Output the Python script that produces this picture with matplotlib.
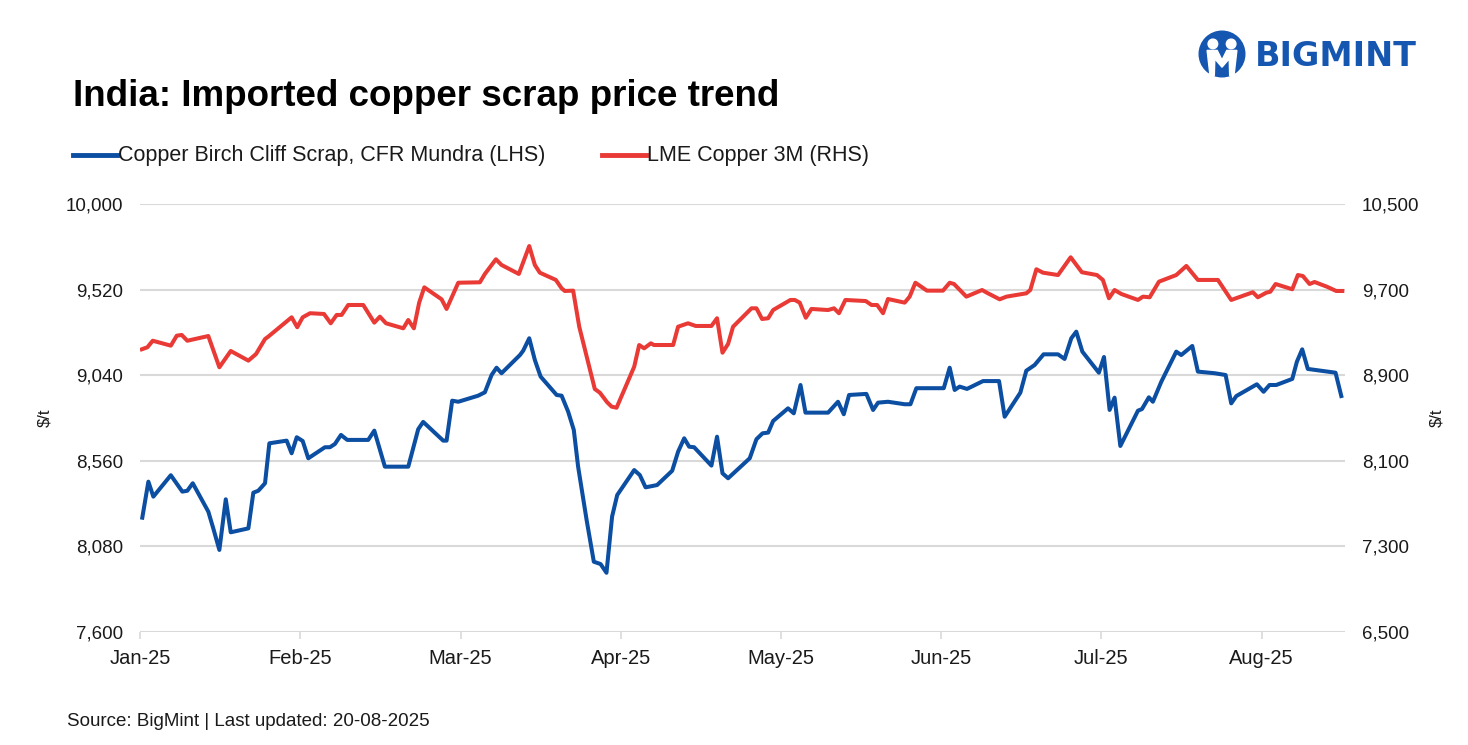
import matplotlib.pyplot as plt
import matplotlib.patches as mpatches
import numpy as np

plt.rcParams['font.family'] = ['Liberation Sans', 'DejaVu Sans']

# x position in months since Jan-25 (category style axis, one unit per month)
months = ['Jan-25', 'Feb-25', 'Mar-25', 'Apr-25', 'May-25', 'Jun-25', 'Jul-25', 'Aug-25']

scrap_x = [0.014, 0.052, 0.083, 0.192, 0.264, 0.295, 0.329, 0.426, 0.457, 0.495,
           0.535, 0.566, 0.676, 0.707, 0.738, 0.780, 0.807, 0.915, 0.946, 0.978,
           1.015, 1.050, 1.154, 1.185, 1.216, 1.254, 1.293, 1.424, 1.462, 1.528,
           1.674, 1.736, 1.767, 1.892, 1.913, 1.948, 1.986, 2.110, 2.152, 2.194,
           2.225, 2.256, 2.371, 2.391, 2.429, 2.464, 2.500, 2.600, 2.631, 2.672,
           2.707, 2.734, 2.787, 2.832, 2.874, 2.911, 2.946, 2.978, 3.084, 3.119,
           3.155, 3.227, 3.321, 3.358, 3.396, 3.427, 3.458, 3.566, 3.601, 3.635,
           3.670, 3.805, 3.847, 3.885, 3.920, 3.951, 4.044, 4.080, 4.122, 4.153,
           4.294, 4.356, 4.392, 4.425, 4.533, 4.575, 4.606, 4.668, 4.772, 4.808,
           4.845, 5.016, 5.053, 5.084, 5.115, 5.161, 5.261, 5.361, 5.396, 5.494,
           5.531, 5.583, 5.639, 5.729, 5.770, 5.812, 5.843, 5.881, 5.984, 6.016,
           6.051, 6.082, 6.118, 6.228, 6.253, 6.296, 6.321, 6.374, 6.467, 6.498,
           6.567, 6.602, 6.706, 6.775, 6.810, 6.842, 6.970, 7.012, 7.049, 7.091,
           7.191, 7.220, 7.253, 7.288, 7.461, 7.497]
scrap_price = [8241, 8443, 8359, 8479, 8387, 8392, 8434, 8275, 8181, 8060,
               8344, 8159, 8181, 8381, 8392, 8434, 8658, 8673, 8602, 8692,
               8671, 8574, 8636, 8636, 8654, 8705, 8677, 8677, 8729, 8527,
               8527, 8737, 8778, 8673, 8673, 8897, 8891, 8925, 8944, 9041,
               9082, 9051, 9153, 9177, 9247, 9125, 9032, 8929, 8925, 8835,
               8733, 8527, 8228, 7994, 7981, 7932, 8247, 8368, 8508, 8480,
               8411, 8424, 8504, 8611, 8686, 8639, 8636, 8533, 8695, 8490,
               8462, 8574, 8681, 8714, 8718, 8783, 8854, 8826, 8985, 8830,
               8830, 8891, 8821, 8929, 8935, 8845, 8886, 8891, 8877, 8877,
               8967, 8967, 9082, 8957, 8976, 8963, 9007, 9007, 8807, 8942,
               9065, 9097, 9157, 9157, 9131, 9247, 9284, 9172, 9054, 9142,
               8845, 8914, 8643, 8841, 8850, 8916, 8891, 9004, 9172, 9153,
               9204, 9060, 9051, 9041, 8882, 8923, 8989, 8947, 8985, 8985,
               9019, 9116, 9185, 9075, 9054, 8923]

lme_x = [0.011, 0.046, 0.079, 0.192, 0.229, 0.260, 0.295, 0.426, 0.495, 0.566,
         0.676, 0.724, 0.780, 0.800, 0.946, 0.981, 1.015, 1.061, 1.148, 1.190,
         1.227, 1.258, 1.299, 1.393, 1.462, 1.497, 1.535, 1.643, 1.674, 1.709,
         1.742, 1.774, 1.882, 1.913, 1.986, 2.121, 2.152, 2.221, 2.256, 2.364,
         2.429, 2.464, 2.495, 2.595, 2.631, 2.651, 2.703, 2.741, 2.838, 2.870,
         2.915, 2.943, 2.974, 3.084, 3.115, 3.146, 3.188, 3.207, 3.327, 3.358,
         3.420, 3.468, 3.566, 3.601, 3.635, 3.670, 3.701, 3.816, 3.847, 3.882,
         3.920, 3.951, 4.059, 4.086, 4.117, 4.155, 4.190, 4.294, 4.331, 4.362,
         4.402, 4.529, 4.565, 4.600, 4.637, 4.668, 4.772, 4.803, 4.839, 4.911,
         5.011, 5.053, 5.080, 5.157, 5.255, 5.292, 5.365, 5.407, 5.531, 5.556,
         5.594, 5.635, 5.729, 5.808, 5.878, 5.972, 6.009, 6.047, 6.082, 6.124,
         6.228, 6.259, 6.301, 6.359, 6.467, 6.530, 6.602, 6.727, 6.810, 6.945,
         6.976, 7.029, 7.054, 7.087, 7.191, 7.226, 7.257, 7.299, 7.330, 7.407,
         7.465, 7.503]
lme_price = [9142, 9161, 9222, 9176, 9269, 9276, 9222, 9266, 8974, 9126,
             9036, 9098, 9238, 9260, 9441, 9348, 9441, 9479, 9472, 9385,
             9463, 9463, 9556, 9556, 9391, 9447, 9385, 9338, 9416, 9338,
             9578, 9721, 9609, 9519, 9764, 9768, 9846, 9983, 9930, 9846,
             10107, 9930, 9858, 9790, 9712, 9687, 9690, 9353, 8771, 8736,
             8647, 8606, 8596, 8979, 9182, 9151, 9198, 9182, 9182, 9353,
             9385, 9360, 9360, 9432, 9110, 9192, 9353, 9525, 9525, 9425,
             9432, 9509, 9603, 9603, 9578, 9437, 9519, 9509, 9525, 9479,
             9603, 9593, 9556, 9556, 9479, 9612, 9578, 9634, 9764, 9690,
             9690, 9764, 9752, 9634, 9696, 9665, 9609, 9634, 9665, 9696,
             9890, 9858, 9836, 10002, 9862, 9836, 9790, 9619, 9696, 9659,
             9603, 9634, 9628, 9774, 9836, 9921, 9790, 9790, 9603, 9675,
             9628, 9671, 9680, 9752, 9703, 9836, 9827, 9752, 9771, 9727,
             9687, 9687]

left_ticks = [7600, 8080, 8560, 9040, 9520, 10000]
right_ticks = [6500, 7300, 8100, 8900, 9700, 10500]

blue = '#0b4ea2'
red = '#e93a36'
grid_c = '#d9d9d9'
txt_c = '#1a1a1a'

fig = plt.figure(figsize=(14.68, 7.45), dpi=100)
ax = fig.add_axes([0.0954, 0.1517, 0.8208, 0.5745])
ax2 = ax.twinx()

for y in left_ticks:
    ax.axhline(y, color=grid_c, lw=1.5, zorder=0)

ax.plot(scrap_x, scrap_price, color=blue, lw=2.9, solid_joinstyle='round', zorder=3)
ax2.plot(lme_x, lme_price, color=red, lw=2.9, solid_joinstyle='round', zorder=3)

ax.set_xlim(0, 7.52)
ax.set_ylim(7600, 10000)
ax2.set_ylim(6500, 10500)
ax.set_yticks(left_ticks)
ax.set_yticklabels([f'{v:,}' for v in left_ticks])
ax2.set_yticks(right_ticks)
ax2.set_yticklabels([f'{v:,}' for v in right_ticks])
ax.set_xticks(range(len(months)))
ax.set_xticklabels(months)

for a in (ax, ax2):
    for s in a.spines.values():
        s.set_visible(False)
ax.tick_params(axis='y', length=0, labelsize=13.5, pad=12, colors=txt_c)
ax2.tick_params(axis='y', length=0, labelsize=13.5, pad=12, colors=txt_c)
ax.tick_params(axis='x', length=5, width=1.2, labelsize=14.5, pad=7,
               colors=grid_c, labelcolor=txt_c)

ax.set_ylabel('$/t', fontsize=12, labelpad=10, color=txt_c)
ax2.set_ylabel('$/t', fontsize=12, labelpad=7, color=txt_c)

# title, legend, source
fig.text(73 / 1468, 1 - 97 / 745, 'India: Imported copper scrap price trend',
         fontsize=26.5, fontweight='bold', va='center', ha='left', color='black')

ly = 1 - 155 / 745
fig.add_artist(plt.Line2D([73 / 1468, 117 / 1468], [ly, ly], color=blue, lw=3.5))
fig.text(118 / 1468, ly, 'Copper Birch Cliff Scrap, CFR Mundra (LHS)',
         fontsize=15.5, va='center', ha='left', color=txt_c)
fig.add_artist(plt.Line2D([602 / 1468, 646 / 1468], [ly, ly], color=red, lw=3.5))
fig.text(647 / 1468, ly, 'LME Copper 3M (RHS)',
         fontsize=15.5, va='center', ha='left', color=txt_c)

fig.text(67 / 1468, 1 - 721 / 745, 'Source: BigMint | Last updated: 20-08-2025',
         fontsize=13.5, va='center', ha='left', color=txt_c)

# logo
logo_blue = '#1456b0'
lax = fig.add_axes([1198 / 1468, 1 - 78 / 745, 48 / 1468, 48 / 745])
lax.set_xlim(-1, 1)
lax.set_ylim(-1, 1)
lax.set_aspect('equal')
lax.axis('off')
lax.add_patch(mpatches.Circle((0, 0), 0.95, color=logo_blue))
lax.add_patch(mpatches.Circle((-0.38, 0.42), 0.2, color='white'))
lax.add_patch(mpatches.Circle((0.38, 0.42), 0.2, color='white'))
lax.add_patch(mpatches.Polygon([[-0.62, 0.15], [-0.2, 0.15], [0, -0.25], [0.2, 0.15],
                                [0.62, 0.15], [0.5, -0.9], [0.32, -0.9], [0.3, -0.2],
                                [0, -0.55], [-0.3, -0.2], [-0.32, -0.9], [-0.5, -0.9]],
                               closed=True, color='white'))
fig.text(1255 / 1468, 1 - 57 / 745, 'BIGMINT', fontsize=24, fontweight='bold',
         color=logo_blue, va='center', ha='left', family='DejaVu Sans')

fig.savefig('out.png', dpi=100)
